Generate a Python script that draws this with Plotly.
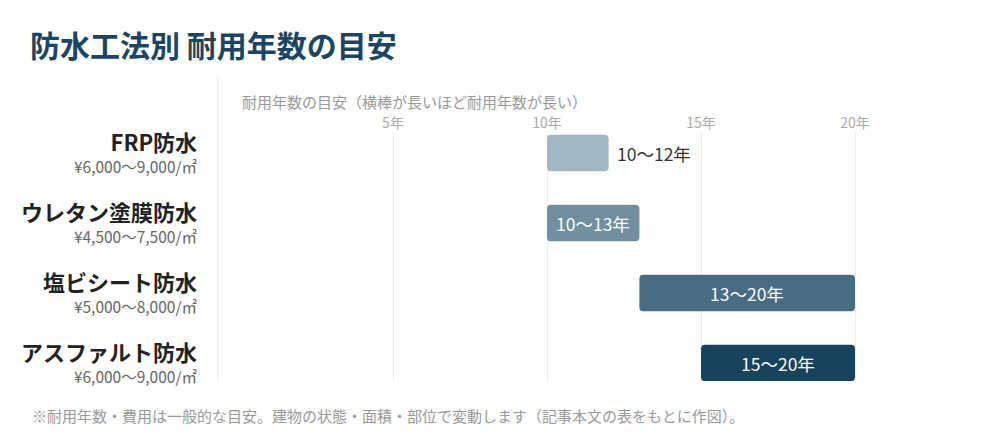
import plotly.graph_objects as go

# ---- data ----
methods = ["FRP防水", "ウレタン塗膜防水", "塩ビシート防水", "アスファルト防水"]
prices = ["¥6,000〜9,000/㎡", "¥4,500〜7,500/㎡", "¥5,000〜8,000/㎡", "¥6,000〜9,000/㎡"]
life_min = [10, 10, 13, 15]
life_max = [12, 13, 20, 20]
bar_colors = ["#a2b7c3", "#728f9f", "#476c83", "#18435d"]
tick_vals = [5, 10, 15, 20]
tick_text = ["5年", "10年", "15年", "20年"]

title_text = "防水工法別 耐用年数の目安"
axis_title = "耐用年数の目安（横棒が長いほど耐用年数が長い）"
footer_text = "※耐用年数・費用は一般的な目安。建物の状態・面積・部位で変動します（記事本文の表をもとに作図）。"

FONT = "Noto Sans CJK JP, Noto Sans, sans-serif"

# geometry of plot area (pixels)
W, H = 1000, 440
L, R, T, B = 218, 130, 132, 59
pw, ph = W - L - R, H - T - B

fig = go.Figure()

ys = list(range(len(methods)))
lens = [b - a for a, b in zip(life_min, life_max)]

# floating bars (base set) -> plotly rounds all four corners
fig.add_trace(go.Bar(
    y=ys, x=lens, base=life_min,
    orientation="h", width=0.52,
    marker=dict(color=bar_colors, cornerradius=4, line=dict(width=0)),
    hoverinfo="skip", showlegend=False,
))

annotations = []
for i, (a, b) in enumerate(zip(life_min, life_max)):
    label = f"{a}〜{b}年"
    if b - a <= 2:
        annotations.append(dict(x=b, y=i, xref="x", yref="y", text=label,
                                showarrow=False, xanchor="left", xshift=6,
                                font=dict(family=FONT, size=17.5, color="#333333")))
    else:
        annotations.append(dict(x=(a + b) / 2, y=i, xref="x", yref="y", text=label,
                                showarrow=False, xanchor="center",
                                font=dict(family=FONT, size=17.5, color="#ffffff")))

lab_x = (199 - L) / pw
for i, (m, p) in enumerate(zip(methods, prices)):
    txt = (f"<span style='font-size:22px;color:#222222'><b>{m}</b></span><br>"
           f"<span style='font-size:15.5px;color:#666666'>{p}</span>")
    annotations.append(dict(x=lab_x, y=i, xref="paper", yref="y", text=txt,
                            showarrow=False, xanchor="right", yanchor="middle",
                            align="right", yshift=2, borderpad=0,
                            font=dict(family=FONT, size=17.2, color="#222222")))

annotations.append(dict(x=(240 - L) / pw, y=1 + (T - 101) / ph, xref="paper", yref="paper",
                        text=axis_title, showarrow=False, xanchor="left", yanchor="middle",
                        font=dict(family=FONT, size=15, color="#999999")))
annotations.append(dict(x=(30 - L) / pw, y=-(415 - (H - B)) / ph, xref="paper", yref="paper",
                        text=footer_text, showarrow=False, xanchor="left", yanchor="middle",
                        font=dict(family=FONT, size=15, color="#999999")))

shapes = [dict(type="line", xref="paper", yref="paper", x0=0, x1=0,
               y0=0, y1=1 + (T - 78) / ph, line=dict(color="#e6e6e6", width=1))]

x0_px = 239
px_per_year = 30.8
xr = [(L - x0_px) / px_per_year, (L + pw - x0_px) / px_per_year]

fig.update_layout(
    width=W, height=H,
    margin=dict(l=L, r=R, t=T, b=B, pad=0),
    paper_bgcolor="white", plot_bgcolor="white",
    barmode="overlay",
    title=dict(text=f"<b>{title_text}</b>", xref="container", yref="container",
               x=0.03, y=1 - 46 / H, xanchor="left", yanchor="middle",
               font=dict(family=FONT, size=30, color="#1b4562")),
    xaxis=dict(side="top", range=xr, tickvals=tick_vals, ticktext=tick_text,
               showgrid=True, gridcolor="#ececec", gridwidth=1, zeroline=False,
               showline=False, ticks="", fixedrange=True,
               tickfont=dict(family=FONT, size=14, color="#aaaaaa")),
    yaxis=dict(range=[3.257, -0.3], visible=False, fixedrange=True),
    annotations=annotations,
    shapes=shapes,
    font=dict(family=FONT),
)

fig.write_html("out.html", config={"displayModeBar": False},
               post_script="document.body.style.margin='0px';")
